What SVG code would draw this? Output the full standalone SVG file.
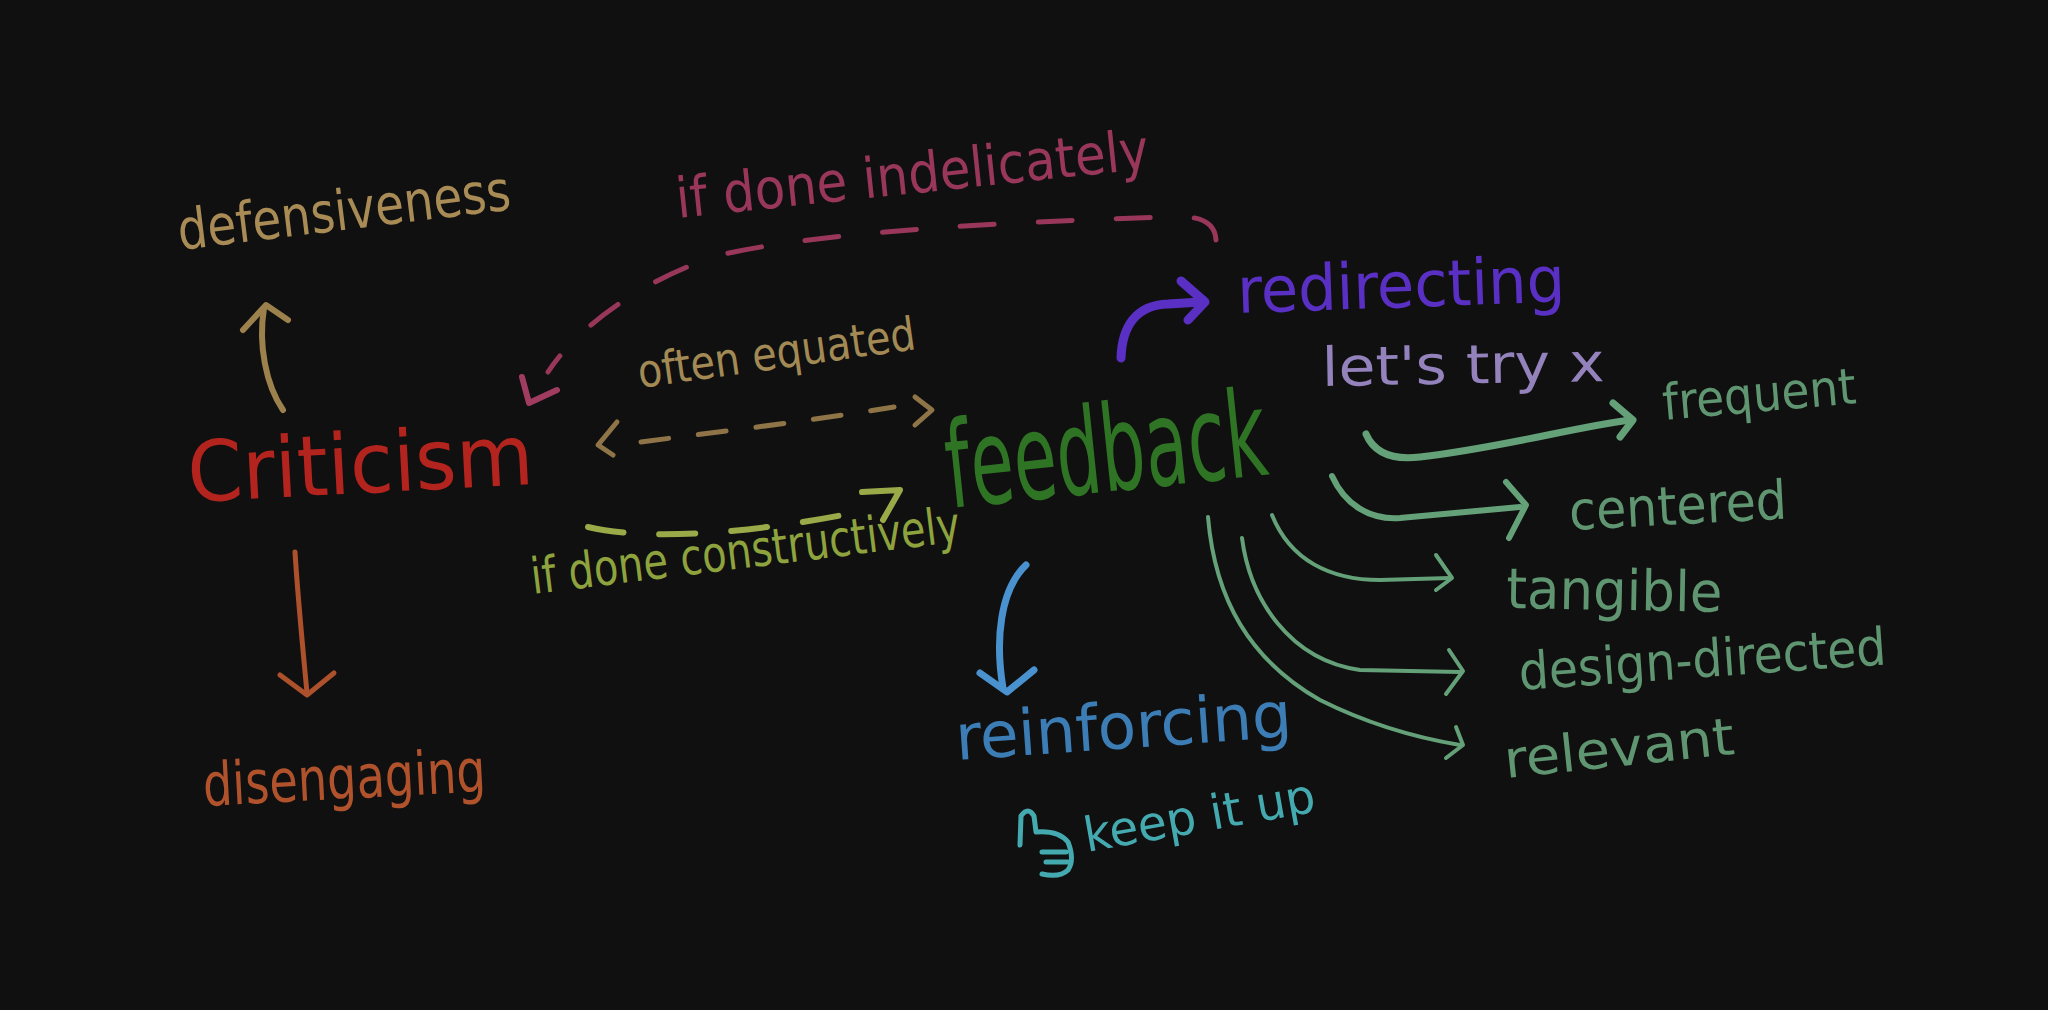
<svg xmlns="http://www.w3.org/2000/svg" width="2048" height="1010" viewBox="0 0 2048 1010">
  <defs>
    <style>
      .t { font-family: "DejaVu Sans Condensed", "Liberation Sans Narrow", "Liberation Sans", sans-serif; }
      .ln { fill: none; stroke-linecap: round; stroke-linejoin: round; }
      .dash { stroke-dasharray: 34 44; }
      .grn { stroke: #64a078; }
      .gtx { fill: #5f9570; }
    </style>
  </defs>
  <rect x="0" y="0" width="2048" height="1010" fill="#101010"/>

  <g id="connectors">
    <!-- criticism -> defensiveness -->
    <path class="ln" stroke="#9c814d" stroke-width="6" d="M283,410 C266,385 258,345 264,308"/>
    <path class="ln" stroke="#9c814d" stroke-width="6" d="M243,330 L266,305 L288,320"/>
    <!-- criticism -> disengaging -->
    <path class="ln" stroke="#ad512c" stroke-width="5" d="M295,552 C298,600 303,650 307,693"/>
    <path class="ln" stroke="#ad512c" stroke-width="5" d="M280,675 L307,695 L334,673"/>
    <!-- feedback -> criticism (if done indelicately) -->
    <path class="ln dash" stroke="#98375a" stroke-width="5" d="M1216,240 C1215,222 1200,215 1170,217 C1000,222 820,232 720,255 C640,280 575,330 548,372"/>
    <path class="ln" stroke="#a03c60" stroke-width="6" d="M522,377 L529,403 L557,390"/>
    <!-- often equated (double) -->
    <path class="ln" stroke="#8e7447" stroke-width="5" stroke-dasharray="28 30" d="M641,442 C700,434 790,424 894,407"/>
    <path class="ln" stroke="#8e7447" stroke-width="5" d="M617,422 L598,445 L613,455"/>
    <path class="ln" stroke="#8e7447" stroke-width="5" d="M915,397 L932,410 L915,425"/>
    <!-- criticism -> feedback (if done constructively) -->
    <path class="ln" stroke="#9aaa48" stroke-width="6" stroke-dasharray="36 36" d="M588,527 C650,542 760,532 858,512"/>
    <path class="ln" stroke="#9aaa48" stroke-width="6" d="M862,492 L900,490 L883,520"/>
    <!-- feedback -> redirecting -->
    <path class="ln" stroke="#5a30c4" stroke-width="9" d="M1121,358 C1122,328 1135,305 1168,304 L1201,302"/>
    <path class="ln" stroke="#5a30c4" stroke-width="9" d="M1181,281 L1205,302 L1188,320"/>
    <!-- feedback -> frequent -->
    <path class="ln grn" stroke-width="7" d="M1366,434 C1375,455 1395,460 1420,457 C1500,448 1570,428 1630,420"/>
    <path class="ln grn" stroke-width="7" d="M1613,403 L1633,420 L1620,437"/>
    <!-- feedback -> centered -->
    <path class="ln grn" stroke-width="6" d="M1332,476 C1345,505 1370,520 1400,518 L1520,507"/>
    <path class="ln grn" stroke-width="6" d="M1506,482 L1526,505 L1509,538"/>
    <!-- feedback -> tangible -->
    <path class="ln grn" stroke-width="4" d="M1272,515 C1290,560 1330,580 1380,580 L1450,578"/>
    <path class="ln grn" stroke-width="4" d="M1436,555 L1452,578 L1436,590"/>
    <!-- feedback -> design-directed -->
    <path class="ln grn" stroke-width="4" d="M1242,538 C1250,600 1290,660 1360,670 L1460,672"/>
    <path class="ln grn" stroke-width="4" d="M1449,650 L1463,671 L1446,694"/>
    <!-- feedback -> relevant -->
    <path class="ln grn" stroke-width="4" d="M1208,517 C1215,600 1250,660 1320,700 C1380,730 1430,740 1460,745"/>
    <path class="ln grn" stroke-width="4" d="M1456,727 L1463,745 L1446,758"/>
    <!-- feedback -> reinforcing -->
    <path class="ln" stroke="#4a92cf" stroke-width="7" d="M1026,565 C1000,590 995,640 1003,688"/>
    <path class="ln" stroke="#4a92cf" stroke-width="7" d="M980,673 L1007,692 L1034,670"/>
  </g>

  <g id="defensiveness">
    <text class="t" x="180" y="250" font-size="56" fill="#a98b56" textLength="335" lengthAdjust="spacingAndGlyphs" transform="rotate(-7 180 250)">defensiveness</text>
  </g>
  <g id="label-indelicately">
    <text class="t" x="678" y="218" font-size="56" fill="#98375a" textLength="475" lengthAdjust="spacingAndGlyphs" transform="rotate(-6 678 218)">if done indelicately</text>
  </g>
  <g id="criticism">
    <text class="t" x="189" y="502" font-size="84" fill="#b4241f" textLength="346" lengthAdjust="spacingAndGlyphs" transform="rotate(-3 189 502)">Criticism</text>
  </g>
  <g id="label-equated">
    <text class="t" x="640" y="388" font-size="46" fill="#a38a55" textLength="280" lengthAdjust="spacingAndGlyphs" transform="rotate(-8 640 388)">often equated</text>
  </g>
  <g id="feedback">
    <text class="t" x="950" y="508" font-size="120" fill="#2f7424" textLength="322" lengthAdjust="spacingAndGlyphs" transform="rotate(-6 950 508)">feedback</text>
  </g>
  <g id="label-constructively">
    <text class="t" x="533" y="594" font-size="50" fill="#8ea33e" textLength="432" lengthAdjust="spacingAndGlyphs" transform="rotate(-7 533 594)">if done constructively</text>
  </g>
  <g id="redirecting">
    <text class="t" x="1238" y="313" font-size="64" fill="#5a30c4" textLength="328" lengthAdjust="spacingAndGlyphs" transform="rotate(-2 1238 313)">redirecting</text>
  </g>
  <g id="lets-try-x">
    <text class="t" x="1322" y="386" font-size="54" fill="#9482bd" textLength="283" lengthAdjust="spacingAndGlyphs" transform="rotate(-1 1322 386)">let's try x</text>
  </g>
  <g id="frequent">
    <text class="t gtx" x="1664" y="420" font-size="50" textLength="194" lengthAdjust="spacingAndGlyphs" transform="rotate(-5 1664 420)">frequent</text>
  </g>
  <g id="centered">
    <text class="t gtx" x="1570" y="530" font-size="54" textLength="218" lengthAdjust="spacingAndGlyphs" transform="rotate(-3 1570 530)">centered</text>
  </g>
  <g id="tangible">
    <text class="t gtx" x="1506" y="608" font-size="56" textLength="216" lengthAdjust="spacingAndGlyphs" transform="rotate(1 1506 608)">tangible</text>
  </g>
  <g id="design-directed">
    <text class="t gtx" x="1520" y="690" font-size="52" textLength="368" lengthAdjust="spacingAndGlyphs" transform="rotate(-4 1520 690)">design-directed</text>
  </g>
  <g id="relevant">
    <text class="t gtx" x="1506" y="778" font-size="52" textLength="231" lengthAdjust="spacingAndGlyphs" transform="rotate(-6 1506 778)">relevant</text>
  </g>
  <g id="reinforcing">
    <text class="t" x="957" y="760" font-size="64" fill="#3c7db5" textLength="337" lengthAdjust="spacingAndGlyphs" transform="rotate(-4 957 760)">reinforcing</text>
  </g>
  <g id="keep-it-up">
    <path class="ln" stroke="#45aab0" stroke-width="5" d="M1020,845 L1021,816 Q1028,806 1034,816 L1036,832 Q1058,830 1068,842 Q1075,860 1068,870 Q1060,878 1042,874 M1042,852 L1066,852 M1046,862 L1068,862"/>
    <text class="t" x="1087" y="852" font-size="48" fill="#45aab0" textLength="234" lengthAdjust="spacingAndGlyphs" transform="rotate(-10 1087 852)">keep it up</text>
  </g>
  <g id="disengaging">
    <text class="t" x="204" y="806" font-size="60" fill="#b0532d" textLength="283" lengthAdjust="spacingAndGlyphs" transform="rotate(-3 204 806)">disengaging</text>
  </g>
</svg>
